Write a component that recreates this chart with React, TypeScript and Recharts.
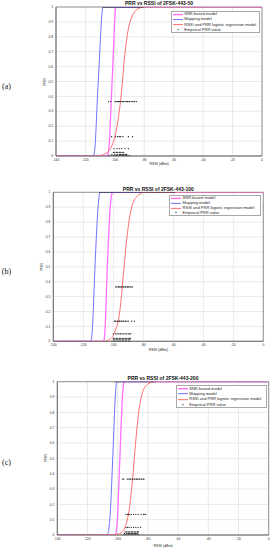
import React from 'react';
import {
  ComposedChart,
  Line,
  Scatter,
  XAxis,
  YAxis,
  CartesianGrid,
  ReferenceArea,
} from 'recharts';

// [RSSI (dBm), PRR]
type Pt = [number, number];

// ---- (a) 2FSK-443-50 ----
const snrA: Pt[] = [
  [-140, 0], [-105, 0], [-104.5, 0.02], [-104, 0.06], [-103.5, 0.13], [-103, 0.24],
  [-102.5, 0.36], [-102, 0.47], [-101.5, 0.58], [-101, 0.7], [-100.5, 0.82],
  [-100, 0.93], [-99.5, 0.99], [-99, 1], [0, 1],
];
const mapA: Pt[] = [
  [-140, 0], [-114.5, 0], [-114, 0.02], [-113.5, 0.06], [-113, 0.14], [-112.5, 0.25],
  [-112, 0.36], [-111.5, 0.46], [-111, 0.55], [-110.5, 0.65], [-110, 0.75],
  [-109.5, 0.85], [-109, 0.93], [-108.5, 0.98], [-108, 1], [0, 1],
];
const logA: Pt[] = [
  [-140, 0], [-112, 0], [-110, 0.003], [-108, 0.008], [-106, 0.018], [-104, 0.035],
  [-102, 0.07], [-100, 0.13], [-98, 0.23], [-97, 0.3], [-96, 0.38], [-95, 0.48],
  [-94, 0.6], [-93, 0.7], [-92, 0.78], [-91, 0.845], [-90, 0.89], [-89, 0.92],
  [-88, 0.945], [-86, 0.975], [-84, 0.99], [-82, 0.997], [-80, 1], [0, 1],
];
const empA: [number, number[]][] = [
  [1, [-108, -107, -106, -105, -104, -103, -102, -101, -100, -99, -98, -97, -96, -95,
    -94, -93, -92, -91, -90, -89, -88, -87, -86, -85, -84, -83, -82, -81]],
  [0.365, [-104.2, -102.8, -99.8, -99, -98, -97.5, -97, -96, -95, -94.5, -94, -93, -92,
    -91.5, -91, -90, -89, -88, -87, -86.5, -85.2]],
  [0.13, [-102.2, -99.5, -98, -97, -96, -94.5, -90.8, -88]],
  [0.05, [-100.6, -98.5, -97, -95.4, -93.1, -90.8]],
  [0.025, [-101, -100, -99, -98, -97, -96, -95, -94]],
  [0.01, [-102, -100, -98.5, -97, -96, -95, -94, -93, -92]],
  [0, [-104.4, -103, -101, -100, -99, -98, -97, -96, -95, -94, -93, -92, -91, -90]],
];

// ---- (b) 2FSK-443-100 ----
const snrB: Pt[] = [
  [-140, 0], [-106.5, 0], [-106, 0.02], [-105.5, 0.08], [-105, 0.2], [-104.5, 0.35],
  [-104, 0.5], [-103.5, 0.62], [-103, 0.73], [-102.5, 0.83], [-102, 0.91],
  [-101.5, 0.96], [-101, 0.99], [-100.5, 1], [0, 1],
];
const mapB: Pt[] = [
  [-140, 0], [-115, 0], [-114.5, 0.02], [-114, 0.07], [-113.5, 0.17], [-113, 0.3],
  [-112.5, 0.43], [-112, 0.55], [-111.5, 0.66], [-111, 0.76], [-110.5, 0.85],
  [-110, 0.92], [-109.5, 0.97], [-109, 1], [0, 1],
];
const logB: Pt[] = [
  [-140, 0], [-106, 0], [-104, 0.005], [-102, 0.015], [-100, 0.04], [-98, 0.09],
  [-97, 0.12], [-96, 0.18], [-95, 0.26], [-94, 0.37], [-93, 0.48], [-92, 0.59],
  [-91, 0.69], [-90, 0.77], [-89, 0.84], [-88, 0.89], [-87, 0.925], [-86, 0.95],
  [-85, 0.965], [-84, 0.975], [-82, 0.99], [-80, 1], [0, 1],
];
const empB: [number, number[]][] = [
  [1, [-109, -108, -107, -106, -105, -104, -103, -102, -101, -100, -99, -98, -97, -96,
    -95, -94, -93, -92, -91, -90, -89, -88, -87, -86, -85, -84, -83, -82, -81, -80,
    -79, -78, -77, -76, -75, -74, -73, -72, -71, -70, -69, -68, -67, -66, -65, -64,
    -63, -62, -61, -60, -59]],
  [0.365, [-98.4, -97.5, -96.5, -96, -95, -94.5, -93.5, -93, -92, -91.5, -90.5, -90,
    -89, -88.2, -87.3]],
  [0.135, [-99.3, -98.5, -97.5, -97, -96, -95.5, -94.5, -93.5, -93, -92, -91, -90,
    -87.8, -86]],
  [0.05, [-100, -98.4, -97.5, -96.5, -95.5, -95, -94, -93, -92, -91, -90, -89, -88.4]],
  [0.02, [-100, -99, -98, -97, -96, -95, -94, -93, -92, -91, -90, -89, -88.5]],
  [0.01, [-100, -99, -98, -97, -96, -95, -94, -93, -92, -91, -90, -89]],
  [0, [-101, -100, -99, -98, -97, -96, -95, -94, -93, -92, -91, -90, -89, -88.5]],
];

// ---- (c) 2FSK-443-200 ----
const snrC: Pt[] = [
  [-140, 0], [-101.5, 0], [-101, 0.02], [-100.5, 0.06], [-100, 0.14], [-99.5, 0.26],
  [-99, 0.39], [-98.5, 0.52], [-98, 0.65], [-97.5, 0.77], [-97, 0.88], [-96.5, 0.95],
  [-96, 0.99], [-95.5, 1], [0, 1],
];
const mapC: Pt[] = [
  [-140, 0], [-107, 0], [-106.5, 0.01], [-106, 0.03], [-105.5, 0.07], [-105, 0.13],
  [-104.5, 0.22], [-104, 0.33], [-103.5, 0.45], [-103, 0.57], [-102.5, 0.7],
  [-102, 0.82], [-101.5, 0.92], [-101, 0.98], [-100.5, 1], [0, 1],
];
const logC: Pt[] = [
  [-140, 0], [-104, 0.001], [-101, 0.003], [-99, 0.008], [-97, 0.021], [-96, 0.034],
  [-95, 0.054], [-94, 0.084], [-93, 0.13], [-92, 0.19], [-91, 0.28], [-90, 0.38],
  [-89, 0.5], [-88, 0.62], [-87, 0.72], [-86, 0.81], [-85, 0.87], [-84, 0.915],
  [-83, 0.945], [-82, 0.965], [-80, 0.985], [-78, 0.995], [-76, 1], [0, 1],
];
const empC: [number, number[]][] = [
  [1, [-102, -101, -100, -99, -98, -97, -96, -95, -94, -93, -92, -91, -90, -89, -88,
    -87, -86, -85, -84, -83, -82, -81, -80, -79, -78, -77, -76, -75]],
  [0.365, [-96.7, -96, -93.7, -93, -92, -91.5, -90.5, -90, -89, -88.5, -87.5, -87, -86,
    -85.5, -84.5, -84, -83, -82.6]],
  [0.135, [-94.5, -93.5, -93, -92, -91, -89.5, -88, -86.5, -84.5, -83, -82, -81.5]],
  [0.05, [-94.5, -93.5, -92.5, -91, -89.5, -88, -86.5, -84.8]],
  [0.02, [-95, -94, -93, -92, -91, -90, -89, -88, -87, -86.3]],
  [0.01, [-95.5, -94, -93, -92, -91, -90, -89, -88, -87]],
  [0, [-96, -95, -94, -93, -92, -91, -90, -89, -88, -87, -86]],
];

const xTicks = [-140, -120, -100, -80, -60, -40, -20, 0];
const yTicks = [0, 0.1, 0.2, 0.3, 0.4, 0.5, 0.6, 0.7, 0.8, 0.9, 1];
const legendLabels = [
  'SNR-based model',
  'Mapping model',
  'RSSI and PRR logistic regression model',
  'Empirical PRR value',
];

const COLORS = { snr: '#ff70ff', map: '#7070ff', log: '#ff7070', emp: '#1a1a1a' };
const FONT = '"Liberation Sans", Arial, sans-serif';

const toXY = (pts: Pt[]) => pts.map(([x, y]) => ({ x, y }));
const toRows = (rows: [number, number[]][]) =>
  rows.flatMap(([prr, xs]) => xs.map((x) => ({ x, y: prr })));

interface PanelCfg {
  letter: string;
  title: string;
  top: number; // where the chart div starts on the page
  plot: { left: number; right: number; top: number; bottom: number };
  legend: { left: number; top: number; width: number; height: number };
  xLabelY: number;
  snr: Pt[];
  map: Pt[];
  log: Pt[];
  emp: [number, number[]][];
}

const panels: PanelCfg[] = [
  {
    letter: '(a)',
    title: 'PRR vs RSSI of 2FSK-443-50',
    top: 0,
    plot: { left: 56, right: 262, top: 7, bottom: 156 },
    legend: { left: 170.7, top: 10.7, width: 89.3, height: 22.6 },
    xLabelY: 164.5,
    snr: snrA, map: mapA, log: logA, emp: empA,
  },
  {
    letter: '(b)',
    title: 'PRR vs RSSI of 2FSK-443-100',
    top: 180,
    plot: { left: 53.3, right: 263.3, top: 192.3, bottom: 341.3 },
    legend: { left: 169, top: 195, width: 91.7, height: 21 },
    xLabelY: 350.5,
    snr: snrB, map: mapB, log: logB, emp: empB,
  },
  {
    letter: '(c)',
    title: 'PRR vs RSSI of 2FSK-443-200',
    top: 365,
    plot: { left: 57.3, right: 268.7, top: 381.7, bottom: 535 },
    legend: { left: 175.7, top: 385, width: 91, height: 23.3 },
    xLabelY: 546.5,
    snr: snrC, map: mapC, log: logC, emp: empC,
  },
];

const EmpDot = (p: any) => <circle cx={p.cx} cy={p.cy} r={0.65} fill={COLORS.emp} />;

function LegendBox({ box }: { box: PanelCfg['legend'] }) {
  const rowH = (box.height - 2) / 4;
  const swatch = [COLORS.snr, COLORS.map, COLORS.log, COLORS.emp];
  return (
    <div
      style={{
        position: 'absolute',
        left: box.left,
        top: box.top,
        width: box.width,
        height: box.height,
        boxSizing: 'border-box',
        border: '1px solid #a8a8a8',
        background: '#fff',
      }}
    >
      {legendLabels.map((label, i) => (
        <div key={label} style={{ display: 'flex', alignItems: 'center', height: rowH }}>
          <svg width={12} height={rowH} style={{ flex: 'none' }}>
            {i < 3 ? (
              <line x1={1} x2={11} y1={rowH / 2} y2={rowH / 2} stroke={swatch[i]} strokeWidth={i === 0 ? 1.4 : 1} />
            ) : (
              <circle cx={6} cy={rowH / 2} r={0.6} fill={swatch[i]} />
            )}
          </svg>
          <span style={{ fontFamily: FONT, fontSize: 4, color: '#262626', whiteSpace: 'nowrap', lineHeight: 1, marginLeft: 0.6 }}>
            {label}
          </span>
        </div>
      ))}
    </div>
  );
}

function Panel({ cfg }: { cfg: PanelCfg }) {
  const { plot } = cfg;
  const height = plot.bottom - cfg.top + 16;
  const midX = (plot.left + plot.right) / 2;
  const tickStyle = { fontSize: 3.3, fill: '#333', fontFamily: FONT };
  return (
    <>
      <div style={{ position: 'absolute', left: 0, top: cfg.top, width: 272, height }}>
        <ComposedChart
          width={272}
          height={height}
          margin={{ top: plot.top - cfg.top, right: 272 - plot.right, left: 0, bottom: 0 }}
        >
          <CartesianGrid stroke="#dcdcdc" strokeWidth={0.6} />
          <XAxis
            type="number"
            dataKey="x"
            domain={[-140, 0]}
            ticks={xTicks}
            interval={0}
            allowDataOverflow
            height={16}
            tickSize={2}
            tickMargin={0.5}
            tickLine={false}
            axisLine={{ stroke: '#555', strokeWidth: 0.6 }}
            tick={tickStyle}
          />
          <YAxis
            type="number"
            dataKey="y"
            domain={[0, 1]}
            ticks={yTicks}
            interval={0}
            allowDataOverflow
            width={plot.left}
            tickSize={2}
            tickMargin={1}
            tickLine={false}
            axisLine={{ stroke: '#555', strokeWidth: 0.6 }}
            tick={tickStyle}
          />
          <ReferenceArea x1={-140} x2={0} y1={0} y2={1} fill="none" stroke="#555" strokeWidth={0.6} ifOverflow="visible" />
          <Line data={toXY(cfg.snr)} dataKey="y" type="monotone" stroke={COLORS.snr} strokeWidth={1.3} dot={false} activeDot={false} isAnimationActive={false} />
          <Line data={toXY(cfg.map)} dataKey="y" type="monotone" stroke={COLORS.map} strokeWidth={1} dot={false} activeDot={false} isAnimationActive={false} />
          <Line data={toXY(cfg.log)} dataKey="y" type="monotone" stroke={COLORS.log} strokeWidth={1} dot={false} activeDot={false} isAnimationActive={false} />
          <Scatter data={toRows(cfg.emp)} dataKey="y" shape={EmpDot} isAnimationActive={false} />
        </ComposedChart>
      </div>

      {/* title, axis labels and the panel letter */}
      <div style={{ position: 'absolute', left: midX, top: plot.top - 3.6, transform: 'translate(-50%, -50%)', fontFamily: FONT, fontSize: 5, fontWeight: 'bold', color: '#111', whiteSpace: 'nowrap', lineHeight: 1 }}>
        {cfg.title}
      </div>
      <div style={{ position: 'absolute', left: midX, top: cfg.xLabelY, transform: 'translate(-50%, -50%)', fontFamily: FONT, fontSize: 3.6, color: '#262626', whiteSpace: 'nowrap', lineHeight: 1 }}>
        RSSI (dBm)
      </div>
      <div style={{ position: 'absolute', left: plot.left - 10, top: (plot.top + plot.bottom) / 2, transform: 'translate(-50%, -50%) rotate(-90deg)', fontFamily: FONT, fontSize: 3.6, color: '#262626', whiteSpace: 'nowrap', lineHeight: 1 }}>
        PRR
      </div>
      <div style={{ position: 'absolute', left: 6.5, top: (plot.top + plot.bottom) / 2 + 5, transform: 'translate(-50%, -50%)', fontFamily: '"Liberation Serif", "Times New Roman", serif', fontSize: 8, color: '#111', whiteSpace: 'nowrap', lineHeight: 1 }}>
        {cfg.letter}
      </div>

      <LegendBox box={cfg.legend} />
    </>
  );
}

export default function App() {
  return (
    <div style={{ position: 'absolute', left: 0, top: 0, width: 272, height: 550, background: '#fff', overflow: 'hidden' }}>
      {panels.map((p) => (
        <Panel key={p.letter} cfg={p} />
      ))}
    </div>
  );
}
